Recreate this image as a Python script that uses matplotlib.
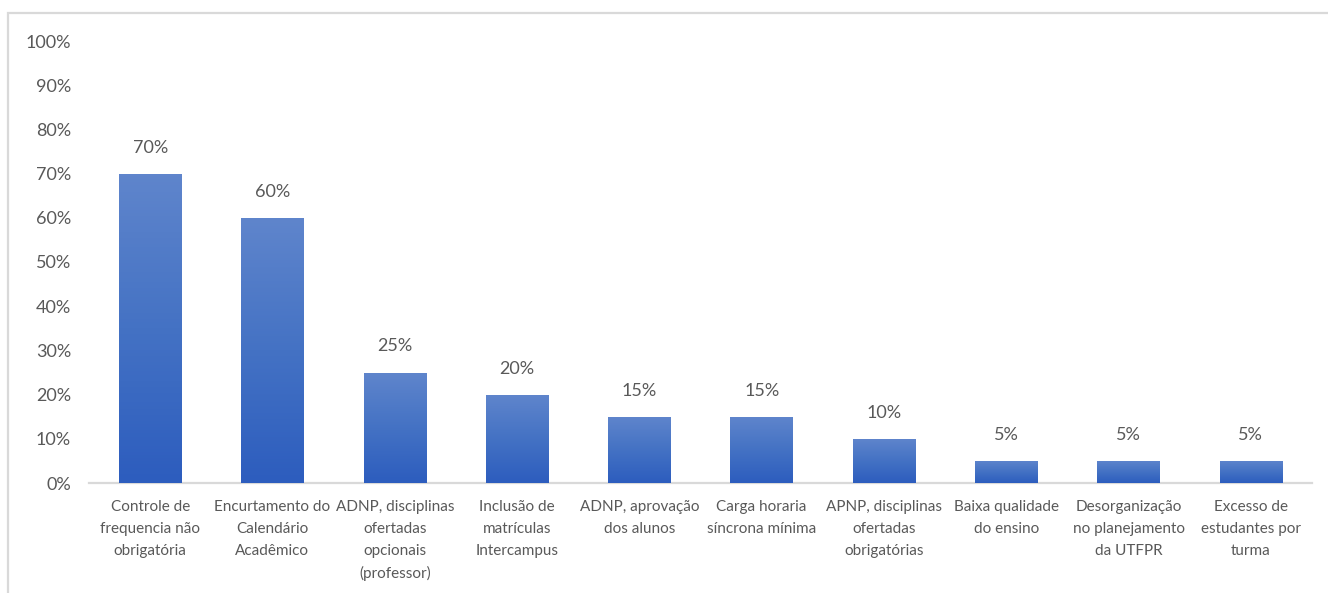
import matplotlib
matplotlib.use("Agg")
import matplotlib.pyplot as plt
import numpy as np
from matplotlib.patches import Rectangle
from matplotlib.colors import LinearSegmentedColormap

categories = [
    "Controle de\nfrequencia não\nobrigatória",
    "Encurtamento do\nCalendário\nAcadêmico",
    "ADNP, disciplinas\nofertadas\nopcionais\n(professor)",
    "Inclusão de\nmatrículas\nIntercampus",
    "ADNP, aprovação\ndos alunos",
    "Carga horaria\nsíncrona mínima",
    "APNP, disciplinas\nofertadas\nobrigatórias",
    "Baixa qualidade\ndo ensino",
    "Desorganização\nno planejamento\nda UTFPR",
    "Excesso de\nestudantes por\nturma",
]
values = [70, 60, 25, 20, 15, 15, 10, 5, 5, 5]
yticks = [0, 10, 20, 30, 40, 50, 60, 70, 80, 90, 100]

plt.rcParams['font.family'] = ['Lato', 'DejaVu Sans']
txt = '#595959'

fig = plt.figure(figsize=(13.28, 5.93), dpi=100)
W, H = 1328, 593
ax = fig.add_axes([89 / W, (H - 483) / H, (1312 - 89) / W, (483 - 41) / H])

# outer frame
fig.patches.append(Rectangle((8 / W, -0.1), 1.2, (H - 13) / H + 0.1,
                             transform=fig.transFigure, fill=False,
                             edgecolor='#D9D9D9', linewidth=1.6))

x = np.arange(len(values))
bw = 0.51
cmap = LinearSegmentedColormap.from_list('g', ['#2D5DBE', '#4472C4', '#5F85CC'])
bars = ax.bar(x, values, width=bw, color='#4472C4', zorder=2)
for b in bars:
    x0, y0 = b.get_x(), b.get_y()
    w, h = b.get_width(), b.get_height()
    grad = np.linspace(0, 1, 100).reshape(-1, 1)
    im = ax.imshow(grad, cmap=cmap, aspect='auto', origin='lower',
                   extent=(x0, x0 + w, y0, y0 + h), zorder=3)
    im.set_clip_path(b)

for xi, v in zip(x, values):
    ax.annotate(f"{v}%", (xi, v), xytext=(0, 13), textcoords='offset points',
                ha='center', va='bottom', fontsize=13, color=txt)

ax.set_xlim(-0.5, len(values) - 0.5)
ax.set_ylim(0, 100)
ax.set_yticks(yticks)
ax.set_yticklabels([f"{t}%" for t in yticks], fontsize=13, color=txt)
ax.set_xticks(x)
ax.set_xticklabels(categories, fontsize=11, color=txt, linespacing=1.72, va='top')
ax.tick_params(axis='both', length=0)
ax.tick_params(axis='y', pad=13)
ax.tick_params(axis='x', pad=12)
for s in ['top', 'right', 'left']:
    ax.spines[s].set_visible(False)
ax.spines['bottom'].set_color('#D9D9D9')
ax.spines['bottom'].set_linewidth(1.6)

fig.savefig('out.png', dpi=100)
